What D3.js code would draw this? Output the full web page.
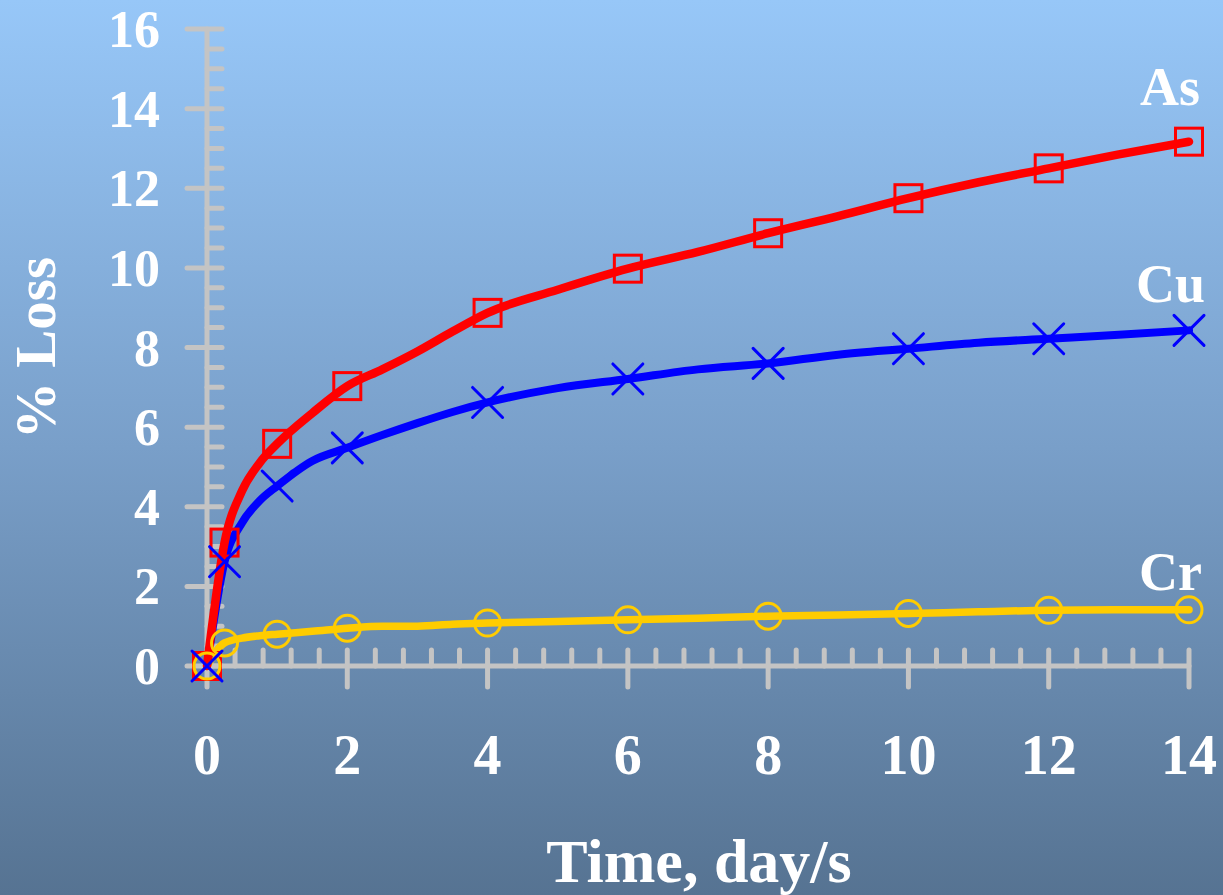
<!DOCTYPE html>
<html>
<head>
<meta charset="utf-8">
<script src="https://cdn.jsdelivr.net/npm/d3@7"></script>
<style>
  html, body { margin: 0; padding: 0; background: #587494; }
  svg { display: block; }
  text { font-family: "Liberation Serif", "Times New Roman", serif; font-weight: bold; fill: #ffffff; }
</style>
</head>
<body>
<svg id="chart" width="1223" height="895"></svg>
<script>
// Sampling times (days) for the loss curves
const days = [0, 0.25, 0.5, 0.75, 1, 1.5, 2, 2.5, 3, 3.5, 4, 5, 6, 7, 8, 9, 10, 11, 12, 13, 14];
// Days on which a marker is drawn
const markerDays = [0, 0.25, 1, 2, 4, 6, 8, 10, 12, 14];

// % loss per element
const lossAs = [0, 3.1, 4.4, 5.1, 5.58, 6.35, 7.03, 7.45, 7.9, 8.4, 8.87, 9.45, 9.98, 10.4, 10.87, 11.3, 11.75, 12.15, 12.5, 12.85, 13.17];
const lossCu = [0, 2.62, 3.6, 4.15, 4.52, 5.15, 5.48, 5.8, 6.1, 6.38, 6.62, 6.98, 7.21, 7.45, 7.6, 7.82, 7.97, 8.12, 8.22, 8.32, 8.43];
const lossCr = [0, 0.58, 0.7, 0.76, 0.8, 0.87, 0.95, 1.0, 1.0, 1.05, 1.08, 1.12, 1.16, 1.2, 1.25, 1.28, 1.32, 1.36, 1.4, 1.41, 1.41];

const seriesNames = ["As", "Cu", "Cr"];
const seriesColors = { As: "#ff0000", Cu: "#0000ff", Cr: "#ffcc00" };

// Axis ticks
const xMajorTicks = [0, 2, 4, 6, 8, 10, 12, 14];
const yMajorTicks = [0, 2, 4, 6, 8, 10, 12, 14, 16];

const svg = d3.select("#chart");
const W = 1223, H = 895;

// Background gradient
const defs = svg.append("defs");
const grad = defs.append("linearGradient").attr("id", "bg").attr("x1", 0).attr("y1", 0).attr("x2", 0).attr("y2", 1);
grad.append("stop").attr("offset", "0%").attr("stop-color", "#97c7f8");
grad.append("stop").attr("offset", "50%").attr("stop-color", "#799fc9");
grad.append("stop").attr("offset", "100%").attr("stop-color", "#567392");
svg.append("rect").attr("width", W).attr("height", H).attr("fill", "url(#bg)");

const x = d3.scaleLinear().domain([0, 14]).range([207, 1189]);
const y = d3.scaleLinear().domain([0, 16]).range([666, 29]);

const axisColor = "#c4c4c4";
const axisG = svg.append("g")
  .attr("stroke", axisColor)
  .attr("stroke-width", 5)
  .attr("stroke-linecap", "round");

// Axis lines
axisG.append("line").attr("x1", x(0)).attr("x2", x(0)).attr("y1", y(0)).attr("y2", y(16));
axisG.append("line").attr("x1", x(0)).attr("x2", x(14)).attr("y1", y(0)).attr("y2", y(0));

// Y minor ticks every 0.5 (inside), majors every 2 (crossing)
const yMinor = d3.range(0, 33).filter(k => k % 4 !== 0).map(k => k * 0.5);
axisG.selectAll(".ymin").data(yMinor).join("line")
  .attr("x1", x(0)).attr("x2", x(0) + 15)
  .attr("y1", d => y(d)).attr("y2", d => y(d));
axisG.selectAll(".ymaj").data(yMajorTicks).join("line")
  .attr("x1", x(0) - 20).attr("x2", x(0) + 15)
  .attr("y1", d => y(d)).attr("y2", d => y(d));

// X minor ticks every 0.4 (inside), majors every 2 (crossing)
const xMinor = d3.range(0, 36).filter(k => k % 5 !== 0).map(k => k * 0.4);
axisG.selectAll(".xmin").data(xMinor).join("line")
  .attr("x1", d => x(d)).attr("x2", d => x(d))
  .attr("y1", y(0) - 16).attr("y2", y(0));
axisG.selectAll(".xmaj").data(xMajorTicks).join("line")
  .attr("x1", d => x(d)).attr("x2", d => x(d))
  .attr("y1", y(0) - 16).attr("y2", y(0) + 21);

// Tick labels
svg.selectAll(".ylab").data(yMajorTicks).join("text")
  .attr("x", 160).attr("y", d => y(d) + 18)
  .attr("text-anchor", "end").attr("font-size", 52)
  .text(d => d);
svg.selectAll(".xlab").data(xMajorTicks).join("text")
  .attr("x", d => x(d)).attr("y", 774)
  .attr("text-anchor", "middle").attr("font-size", 56)
  .text(d => d);

// Axis titles
svg.append("text")
  .attr("transform", "translate(55,348) rotate(-90)")
  .attr("text-anchor", "middle").attr("font-size", 57)
  .text("% Loss");
svg.append("text")
  .attr("x", 699).attr("y", 882)
  .attr("text-anchor", "middle").attr("font-size", 62)
  .text("Time, day/s");

// Series data
const seriesData = {
  As: days.map((d, i) => ({ t: d, v: lossAs[i] })),
  Cu: days.map((d, i) => ({ t: d, v: lossCu[i] })),
  Cr: days.map((d, i) => ({ t: d, v: lossCr[i] }))
};
const markerPts = name => seriesData[name].filter(p => markerDays.includes(p.t));

const line = d3.line().x(p => x(p.t)).y(p => y(p.v)).curve(d3.curveMonotoneX);

// Lines: Cr, Cu, As (As on top)
const lineWidths = { As: 8.5, Cu: 8, Cr: 7.5 };
["Cr", "Cu", "As"].forEach(name => {
  svg.append("path")
    .datum(seriesData[name])
    .attr("d", line)
    .attr("fill", "none")
    .attr("stroke", seriesColors[name])
    .attr("stroke-width", lineWidths[name])
    .attr("stroke-linecap", "round")
    .attr("stroke-linejoin", "round");
});

// Markers: squares for As
svg.append("g").selectAll("rect").data(markerPts("As")).join("rect")
  .attr("x", p => x(p.t) - 13.5).attr("y", p => y(p.v) - 13.5)
  .attr("width", 27).attr("height", 27)
  .attr("fill", "none").attr("stroke", seriesColors.As).attr("stroke-width", 3);

// Circles for Cr
svg.append("g").selectAll("circle").data(markerPts("Cr")).join("circle")
  .attr("cx", p => x(p.t)).attr("cy", p => y(p.v)).attr("r", 13)
  .attr("fill", "none").attr("stroke", seriesColors.Cr).attr("stroke-width", 3);

// Crosses for Cu
const cross = 15;
svg.append("g").selectAll("path").data(markerPts("Cu")).join("path")
  .attr("d", p => {
    const cx = x(p.t), cy = y(p.v);
    return `M${cx - cross},${cy - cross}L${cx + cross},${cy + cross}M${cx - cross},${cy + cross}L${cx + cross},${cy - cross}`;
  })
  .attr("fill", "none").attr("stroke", seriesColors.Cu).attr("stroke-width", 3)
  .attr("stroke-linecap", "round");

// Series labels at the end of each curve
const labelPos = { As: [1200, 105], Cu: [1205, 302], Cr: [1202, 590] };
svg.selectAll(".slab").data(seriesNames).join("text")
  .attr("x", d => labelPos[d][0]).attr("y", d => labelPos[d][1])
  .attr("text-anchor", "end").attr("font-size", 54)
  .text(d => d);
</script>
</body>
</html>
